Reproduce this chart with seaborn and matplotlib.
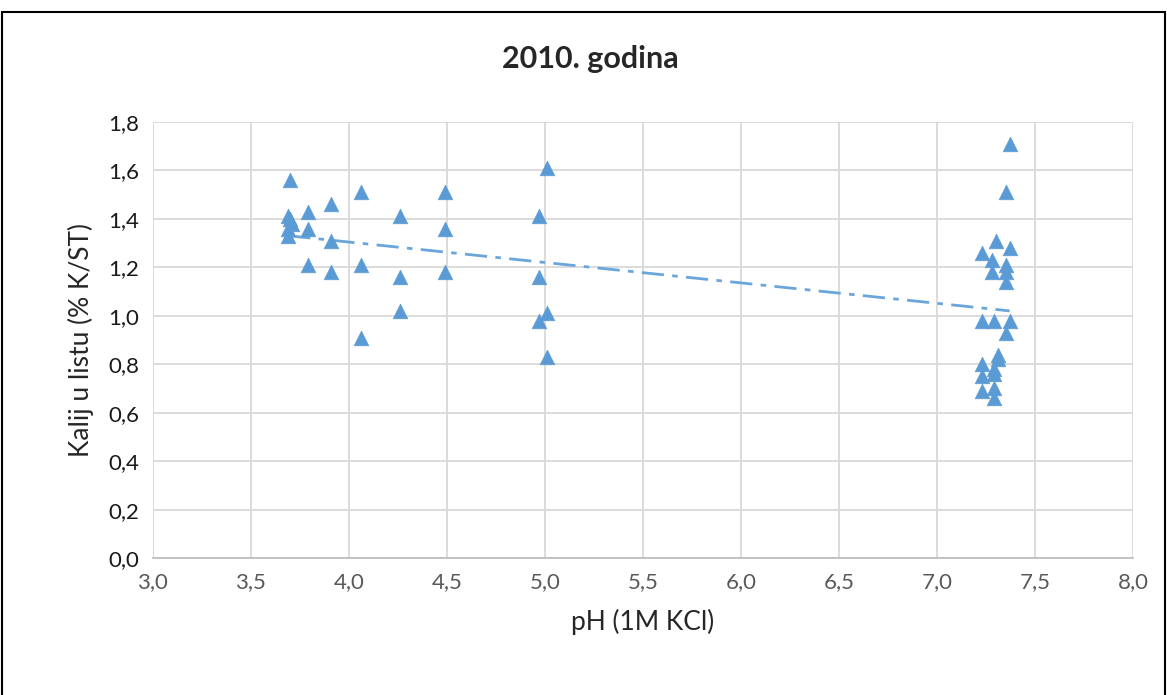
import numpy as np
import pandas as pd
import seaborn as sns
import matplotlib.pyplot as plt
from matplotlib.ticker import FuncFormatter
from matplotlib.patches import Rectangle

ph = [3.70, 3.69, 3.70, 3.71, 3.69, 3.69,
      3.79, 3.79, 3.79,
      3.91, 3.91, 3.91,
      4.06, 4.06, 4.06,
      4.26, 4.26, 4.26,
      4.49, 4.49, 4.49,
      4.97, 4.97, 4.97,
      5.01, 5.01, 5.01,
      7.37, 7.35, 7.30, 7.23, 7.37, 7.28, 7.35, 7.28, 7.35, 7.35,
      7.23, 7.29, 7.37, 7.35, 7.31, 7.31, 7.23, 7.29, 7.23, 7.29,
      7.23, 7.29, 7.29]
kalij = [1.56, 1.41, 1.40, 1.38, 1.36, 1.33,
         1.43, 1.36, 1.21,
         1.46, 1.31, 1.18,
         1.51, 1.21, 0.91,
         1.41, 1.16, 1.02,
         1.51, 1.36, 1.18,
         1.41, 1.16, 0.98,
         1.61, 1.01, 0.83,
         1.71, 1.51, 1.31, 1.26, 1.28, 1.23, 1.21, 1.18, 1.18, 1.14,
         0.98, 0.98, 0.98, 0.93, 0.84, 0.82, 0.80, 0.78, 0.75, 0.76,
         0.69, 0.70, 0.66]

df = pd.DataFrame({'pH': ph, 'K': kalij})

sns.set_style('white')
plt.rcParams['font.family'] = ['Lato', 'DejaVu Sans']

fig, ax = plt.subplots(figsize=(11.67, 6.95), dpi=100)
fig.subplots_adjust(left=0.131, right=0.971, top=0.8245, bottom=0.197)

blue = '#5B9BD5'
sns.scatterplot(data=df, x='pH', y='K', marker='^', s=110, color=blue,
                edgecolor=blue, linewidth=0.5, ax=ax, zorder=3)

# linear trend line (Excel style)
k, n = np.polyfit(df['pH'], df['K'], 1)
xs = np.array([df['pH'].min(), df['pH'].max()])
ax.plot(xs, k * xs + n, color='#6AA5DB', linestyle=(0, (8, 3, 2, 3)), linewidth=2, zorder=2)

ax.set_xlim(3.0, 8.0)
ax.set_ylim(0.0, 1.8)
ax.set_xticks(np.arange(3.0, 8.01, 0.5))
ax.set_yticks(np.arange(0.0, 1.81, 0.2))
fmt = FuncFormatter(lambda v, p: f'{v:.1f}'.replace('.', ','))
ax.xaxis.set_major_formatter(fmt)
ax.yaxis.set_major_formatter(fmt)
ax.grid(True, color='#D9D9D9', linewidth=1.3)
for s in ['top', 'right', 'left']:
    ax.spines[s].set_visible(False)
ax.spines['bottom'].set_color('#BFBFBF')
ax.spines['bottom'].set_linewidth(1.3)
ax.tick_params(axis='both', labelsize=16, length=0, pad=10)
ax.tick_params(axis='x', labelcolor='#595959')
ax.tick_params(axis='y', labelcolor='#1a1a1a')

ax.set_xlabel('pH (1M KCl)', fontsize=19, labelpad=12)
ax.set_ylabel('Kalij u listu (% K/ST)', fontsize=19, labelpad=10)
fig.suptitle('2010. godina', x=0.506, y=0.935, fontsize=22, fontweight='bold')

fig.patches.append(Rectangle((0.002, -0.01), 0.996, 0.993, transform=fig.transFigure,
                             fill=False, edgecolor='black', linewidth=1.5))

fig.savefig('out.png', dpi=100)
